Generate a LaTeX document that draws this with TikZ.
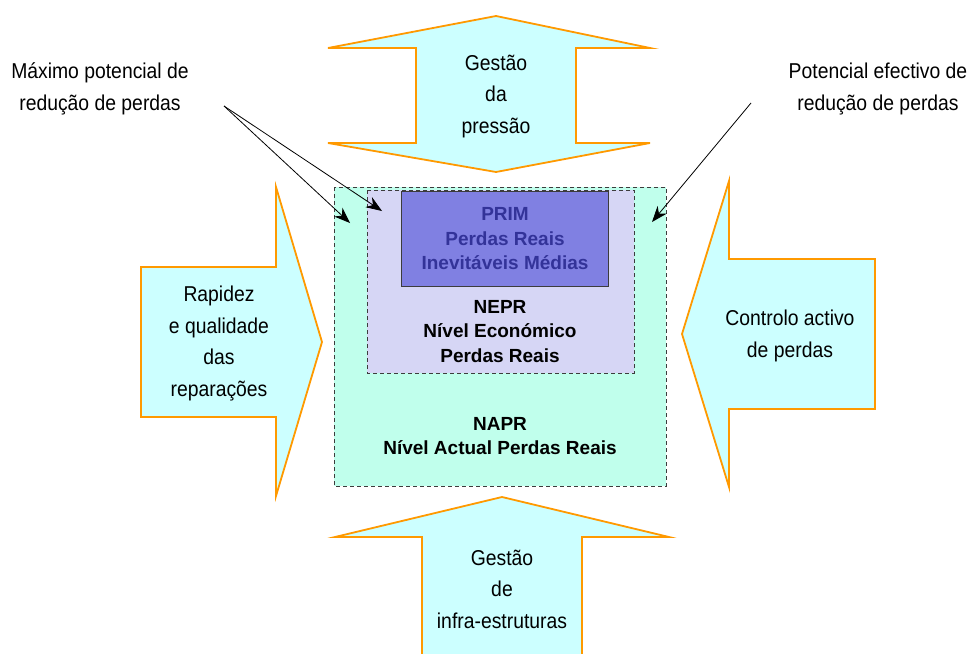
\documentclass[tikz,border=0pt]{standalone}
\usepackage{fontspec}
\setmainfont{Liberation Sans}
\newfontfamily\condfont[FakeStretch=0.9]{Liberation Sans}
\usetikzlibrary{arrows.meta}
\definecolor{arrfill}{RGB}{204,255,255}
\definecolor{arrline}{RGB}{255,153,0}
\definecolor{naprfill}{RGB}{192,255,236}
\definecolor{neprfill}{RGB}{214,214,245}
\definecolor{primfill}{RGB}{128,128,226}
\definecolor{primtext}{RGB}{51,51,153}
\definecolor{dashline}{RGB}{60,60,60}
\tikzset{
  bigarrow/.style={fill=arrfill, draw=arrline, line width=1.8pt, line join=miter},
  arrtext/.style={align=center, inner sep=0pt, font=\condfont\fontsize{21.5}{31.5}\selectfont},
  boxtext/.style={align=center, inner sep=0pt, font=\bfseries\fontsize{19}{24.5}\selectfont},
  levelbox/.style={draw=dashline, line width=0.8pt, dash pattern=on 4pt off 3pt},
  leader/.style={draw=black, line width=0.8pt, -{Stealth[length=16pt,width=12pt]}}
}
\begin{document}
\begin{tikzpicture}[x=1pt,y=-1pt]
\useasboundingbox (0,0) rectangle (973,653);
% big arrows
\path[bigarrow] (496,16) -- (650,48) -- (576,48) -- (576,143) -- (650,143) -- (496,172) -- (328,143) -- (416,143) -- (416,48) -- (328,48) -- cycle;
\path[bigarrow] (141,267) -- (276,267) -- (276,187) -- (322,342) -- (276,496) -- (276,417) -- (141,417) -- cycle;
\path[bigarrow] (875,259) -- (729,259) -- (729,181) -- (682,334) -- (729,487) -- (729,409) -- (875,409) -- cycle;
\path[bigarrow] (422,660) -- (422,537) -- (335,537) -- (502,497) -- (669,537) -- (582,537) -- (582,660);
% level boxes
\path[levelbox, fill=naprfill] (334,187) rectangle (666,486);
\path[levelbox, fill=neprfill] (367,190) rectangle (634,373);
\path[draw=dashline, line width=0.8pt, fill=primfill] (401,191) rectangle (608,286);
% arrow texts
\node[arrtext] (press) at (496,96.5) {Gestão\\da\\pressão};
\node[arrtext] (repar) at (219,343.5) {Rapidez\\e qualidade\\das\\reparações};
\node[arrtext] (ctrl) at (790,336) {Controlo activo\\de perdas};
\node[arrtext] (infra) at (502,589) {Gestão\\de\\infra-estruturas};
% box texts
\node[boxtext, text=primtext] (prim) at (505,239) {PRIM\\Perdas Reais\\Inevitáveis Médias};
\node[boxtext] (nepr) at (500,331.5) {NEPR\\Nível Económico\\Perdas Reais};
\node[boxtext] (napr) at (500,436) {NAPR\\Nível Actual Perdas Reais};
% labels
\node[arrtext] (maxlab) at (100,89) {Máximo potencial de\\redução de perdas};
\node[arrtext] (efflab) at (878,89) {Potencial efectivo de\\redução de perdas};
% leaders
\coordinate (mstart) at (224,106);
\coordinate (mtipA) at (350,223);
\coordinate (mtipB) at (382,211);
\coordinate (estart) at (751,103);
\coordinate (etip) at (652,222);
\draw[leader] (mstart) -- (mtipA);
\draw[leader] (mstart) -- (mtipB);
\draw[leader] (estart) -- (etip);
\end{tikzpicture}
\end{document}
